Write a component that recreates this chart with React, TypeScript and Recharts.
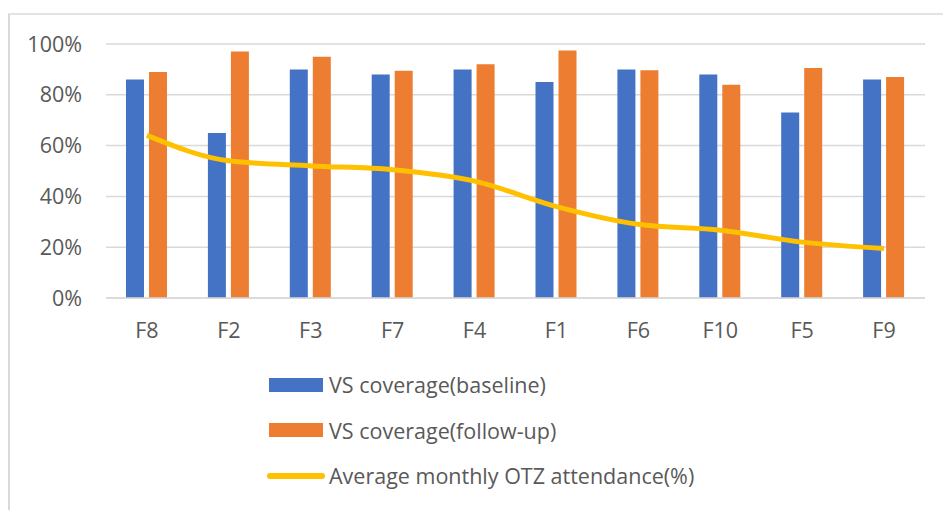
import React from "react";
import { ComposedChart, Bar, Line, XAxis, YAxis, CartesianGrid, Legend } from "recharts";

const categories = ["F8", "F2", "F3", "F7", "F4", "F1", "F6", "F10", "F5", "F9"];
const baseline = [86, 65, 90, 88, 90, 85, 90, 88, 73, 86];
const followUp = [89, 97, 95, 89.5, 92, 97.4, 89.7, 84, 90.6, 87];
const attendance = [64, 54, 52, 50.5, 46, 36, 29, 26.7, 22, 19.5];
const yTicks = [0, 20, 40, 60, 80, 100];

const seriesNames = [
  "VS coverage(baseline)",
  "VS coverage(follow-up)",
  "Average monthly OTZ attendance(%)",
];

const BLUE = "#4472C4";
const ORANGE = "#ED7D31";
const GOLD = "#FFC000";
const TEXT = "#595959";
const FONT = "'Open Sans', sans-serif";

const data = categories.map((c, i) => ({
  name: c,
  baseline: baseline[i],
  followUp: followUp[i],
  attendance: attendance[i],
}));

const LegendContent = (props: any) => {
  const payload = [...(props.payload || [])].sort(
    (a: any, b: any) => seriesNames.indexOf(a.value) - seriesNames.indexOf(b.value)
  );
  return (
    <div style={{ fontFamily: FONT, fontSize: 21.5, color: TEXT }}>
      {payload.map((p: any, i: number) => (
        <div
          key={i}
          style={{ display: "flex", alignItems: "center", height: 45.5, whiteSpace: "nowrap" }}
        >
          {p.type === "line" ? (
            <div
              style={{
                width: 58,
                height: 6,
                borderRadius: 3,
                background: p.color,
                marginLeft: 0,
                marginRight: 4,
              }}
            />
          ) : (
            <div
              style={{
                width: 54,
                height: 14,
                background: p.color,
                marginLeft: 2,
                marginRight: 6,
              }}
            />
          )}
          <span>{p.value}</span>
        </div>
      ))}
    </div>
  );
};

export default function App() {
  return (
    <div
      style={{
        position: "fixed",
        left: 0,
        top: 0,
        width: 943,
        height: 510,
        background: "#fff",
        overflow: "hidden",
      }}
    >
      <div
        style={{
          position: "absolute",
          left: 8,
          top: 13,
          width: 1000,
          height: 600,
          borderLeft: "2px solid #d9d9d9",
          borderTop: "2px solid #e3e3e3",
        }}
      />
      <div style={{ position: "absolute", left: 0, top: 0 }}>
        <ComposedChart
          width={943}
          height={510}
          data={data}
          margin={{ top: 44, right: 18, left: 0, bottom: 182 }}
          barGap={5}
        >
          <CartesianGrid vertical={false} stroke="#d9d9d9" strokeWidth={1.5} />
          <XAxis
            dataKey="name"
            height={30}
            axisLine={{ stroke: "#d9d9d9", strokeWidth: 1.5 }}
            tickLine={false}
            tickSize={0}
            tickMargin={25}
            tick={{ fill: TEXT, fontSize: 21.5, fontFamily: FONT }}
            interval={0}
          />
          <YAxis
            width={106}
            domain={[0, 100]}
            ticks={yTicks}
            tickFormatter={(v: number) => `${v}%`}
            axisLine={false}
            tickLine={false}
            tickSize={0}
            tickMargin={24}
            tick={{ fill: TEXT, fontSize: 21.5, fontFamily: FONT }}
          />
          <Bar dataKey="baseline" name={seriesNames[0]} fill={BLUE} barSize={18} isAnimationActive={false} legendType="rect" />
          <Bar dataKey="followUp" name={seriesNames[1]} fill={ORANGE} barSize={18} isAnimationActive={false} legendType="rect" />
          <Line
            dataKey="attendance"
            name={seriesNames[2]}
            type="monotone"
            stroke={GOLD}
            strokeWidth={5}
            dot={false}
            activeDot={false}
            isAnimationActive={false}
            legendType="line"
          />
          <Legend
            layout="vertical"
            align="center"
            verticalAlign="middle"
            content={<LegendContent />}
            wrapperStyle={{ position: "absolute", left: 267, top: 362, width: 480, height: 140 }}
          />
        </ComposedChart>
      </div>
    </div>
  );
}
